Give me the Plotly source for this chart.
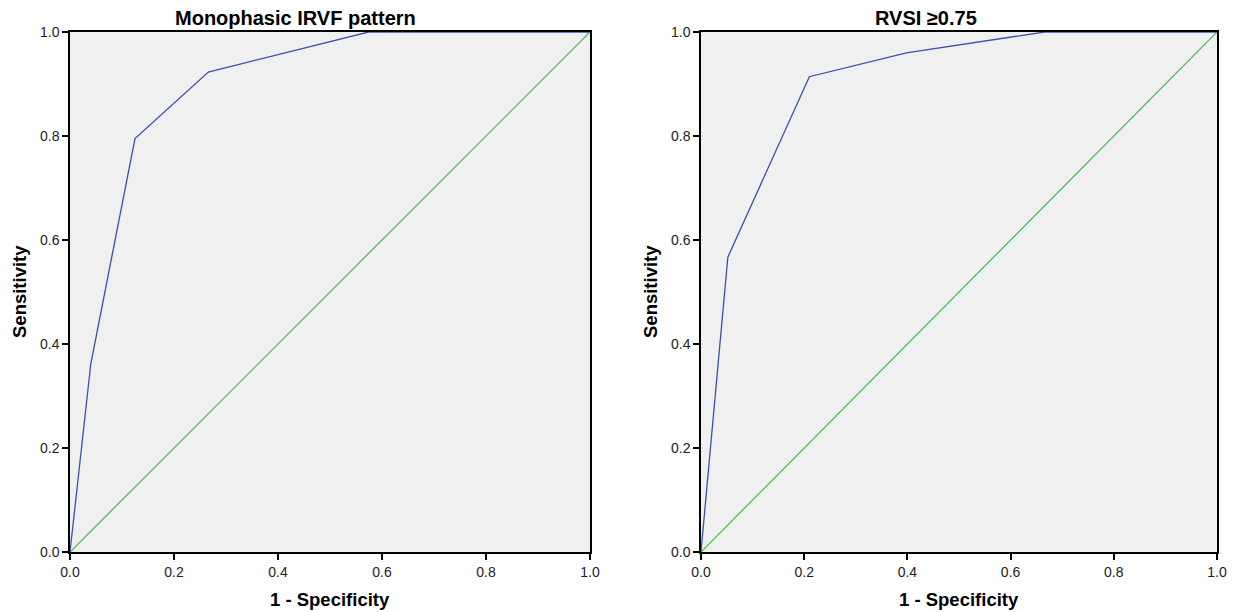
import plotly.graph_objects as go

# ROC data
irvf_fpr = [0.0, 0.04, 0.125, 0.266, 0.574, 1.0]
irvf_tpr = [0.0, 0.362, 0.795, 0.923, 1.0, 1.0]
rvsi_fpr = [0.0, 0.052, 0.21, 0.398, 0.666, 1.0]
rvsi_tpr = [0.0, 0.567, 0.914, 0.96, 1.0, 1.0]
ref_line = [0.0, 1.0]
titles = ["Monophasic IRVF pattern", "RVSI \u22650.75"]
tick_vals = [0.0, 0.2, 0.4, 0.6, 0.8, 1.0]
tick_text = ["0.0", "0.2", "0.4", "0.6", "0.8", "1.0"]

BLUE = "#3A4FB0"
GREEN = "#3DBB4A"
FONT = "Liberation Sans, Arial, sans-serif"

fig = go.Figure()
panels = [(irvf_fpr, irvf_tpr, "x", "y"), (rvsi_fpr, rvsi_tpr, "x2", "y2")]
for fx, ty, xa, ya in panels:
    fig.add_trace(go.Scatter(x=ref_line, y=ref_line, mode="lines", xaxis=xa, yaxis=ya,
                             line=dict(color=GREEN, width=1.2), showlegend=False, hoverinfo="skip"))
    fig.add_trace(go.Scatter(x=fx, y=ty, mode="lines", xaxis=xa, yaxis=ya,
                             line=dict(color=BLUE, width=1.3), showlegend=False))

ydom = [1 - 552 / 612, 1 - 32 / 612]
xdoms = [[70 / 1233, 590 / 1233], [701 / 1233, 1217 / 1233]]
title_x = [295 / 1233, 926 / 1233]

axis_common = dict(range=[0, 1], showgrid=False, zeroline=False, showline=True, linecolor="black",
                   linewidth=1.5, mirror=True, ticks="outside", ticklen=6, tickwidth=1.5,
                   tickcolor="black", tickvals=tick_vals, ticktext=tick_text, automargin=False,
                   tickfont=dict(family=FONT, size=14, color="#222"))

layout = dict(width=1233, height=612, margin=dict(l=0, r=0, t=0, b=0),
              paper_bgcolor="white", plot_bgcolor="#F0F0F0", font=dict(family=FONT))
for i, (xd, sfx) in enumerate(zip(xdoms, ["", "2"])):
    layout["xaxis" + sfx] = dict(axis_common, domain=xd, anchor="y" + sfx)
    layout["yaxis" + sfx] = dict(axis_common, domain=ydom, anchor="x" + sfx)
fig.update_layout(**layout)

for i, t in enumerate(titles):
    xd = xdoms[i]
    xc = (xd[0] + xd[1]) / 2
    fig.add_annotation(text="<b>" + t + "</b>", x=title_x[i], y=ydom[1], xref="paper",
                       yref="paper", xanchor="center", yanchor="bottom", yshift=1, showarrow=False,
                       font=dict(family=FONT, size=20, color="black"))
    fig.add_annotation(text="<b>1 - Specificity</b>", x=xc, y=1 - 599 / 612, xref="paper",
                       yref="paper", xanchor="center", yanchor="middle", showarrow=False,
                       font=dict(family=FONT, size=18.5, color="black"))
    fig.add_annotation(text="<b>Sensitivity</b>", x=(xd[0] * 1233 - 51) / 1233,
                       y=(ydom[0] + ydom[1]) / 2, xref="paper", yref="paper",
                       xanchor="center", yanchor="middle", textangle=-90, showarrow=False,
                       font=dict(family=FONT, size=18.5, color="black"))

fig.write_html("out.html", config={"displayModeBar": False},
               post_script="document.body.style.margin='0';document.body.style.overflow='hidden';")
